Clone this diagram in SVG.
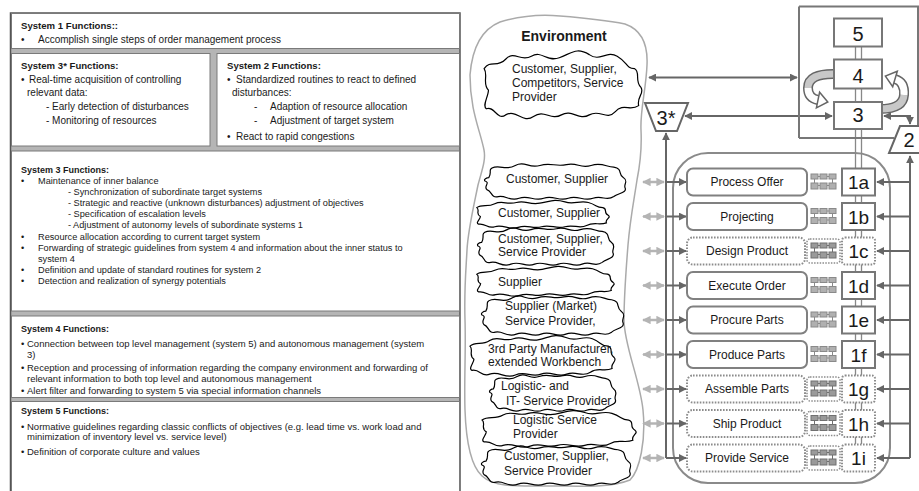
<svg xmlns="http://www.w3.org/2000/svg" width="919" height="491" viewBox="0 0 919 491">
<style>
text{font-family:"Liberation Sans",Arial,sans-serif;fill:#1a1a1a}
.lp{font-size:10px}
.lp4{font-size:9.5px}
.lp9{font-size:9.2px}
.hb{font-weight:bold;font-size:9.6px}
.hb9{font-weight:bold;font-size:9px}
.cl{font-size:12px}
.pr{font-size:12px;text-anchor:middle}
.num{font-size:19px;text-anchor:middle}
.big{font-size:20px;text-anchor:middle}
.wb{fill:#fff;stroke:#7a7a7a;stroke-width:1}
.box{fill:#fff;stroke:#777;stroke-width:2}
.pbox{fill:#fff;stroke:#808080;stroke-width:2}
.dot{fill:#fff;stroke:#8c8c8c;stroke-width:2;stroke-dasharray:1.6 1.4}
.ln{stroke:#666;stroke-width:2;fill:none}
.lg{stroke:#b4b4b4;stroke-width:2.5;fill:none}
.dl{stroke:#888;stroke-width:1.3;fill:none}
</style>
<defs>
<marker id="ah" viewBox="0 0 10 10" refX="9" refY="5" markerWidth="4" markerHeight="4" orient="auto-start-reverse"><path d="M0,0 L10,5 L0,10 z" fill="#666"/></marker>
<marker id="ahl" viewBox="0 0 10 10" refX="9" refY="5" markerWidth="3.4" markerHeight="3.4" orient="auto-start-reverse"><path d="M0,0 L10,5 L0,10 z" fill="#b4b4b4"/></marker>
<path id="cl1" fill="none" stroke="#000" stroke-width="1.2" vector-effect="non-scaling-stroke" d="M6,26 C0,22 6,16 2,12 C8,6 14,12 22,6 C30,0 36,8 46,4 C56,0 60,8 72,5 C84,2 88,-2 100,3 C110,8 116,0 126,4 C136,8 134,12 142,12 C148,14 142,20 148,24 C152,28 144,30 146,36 C138,40 132,34 124,40 C116,46 110,38 100,42 C90,46 84,38 74,42 C64,46 58,38 48,43 C38,48 32,38 22,42 C14,46 12,36 4,38 C0,36 6,30 6,26 Z"/>
<path id="cl2" fill="none" stroke="#000" stroke-width="1.2" vector-effect="non-scaling-stroke" d="M4,18 C8,12 2,8 10,6 C18,4 22,10 32,4 C42,-2 46,8 58,4 C70,0 74,6 86,3 C98,0 100,8 112,4 C124,0 128,6 136,6 C146,8 140,14 146,18 C152,22 146,26 148,30 C150,36 140,36 136,40 C128,46 124,38 114,42 C104,46 98,38 88,42 C78,46 72,38 62,42 C52,46 46,38 36,42 C26,46 22,38 14,40 C6,42 8,34 2,32 C-2,28 6,24 0,22 C-2,20 2,18 4,18 Z"/>
<g id="ico" fill="#b0b0b0" stroke="#8a8a8a" stroke-width="1">
<path d="M0,-5.5 H25 M0,3.5 H25 M3.5,-3 V1 M21.5,-3 V1" fill="none"/>
<rect x="0" y="-8" width="7" height="5"/><rect x="9" y="-8" width="7" height="5"/><rect x="18" y="-8" width="7" height="5"/>
<rect x="0" y="1" width="7" height="6"/><rect x="9" y="1" width="7" height="6"/><rect x="18" y="1" width="7" height="6"/>
</g>
<g id="icoD">
<rect x="-4" y="-12" width="33" height="24" rx="3" fill="#fff" stroke="#8c8c8c" stroke-width="1.5" stroke-dasharray="1.5 1.3"/>
<g fill="#9a9a9a" stroke="#707070" stroke-width="1">
<path d="M0,-5.5 H25 M0,3.5 H25 M3.5,-3 V1 M21.5,-3 V1" fill="none"/>
<rect x="0" y="-8" width="7" height="5"/><rect x="9" y="-8" width="7" height="5"/><rect x="18" y="-8" width="7" height="5"/>
<rect x="0" y="1" width="7" height="6"/><rect x="9" y="1" width="7" height="6"/><rect x="18" y="1" width="7" height="6"/>
</g>
</g>
</defs>

<rect width="919" height="491" fill="#fff"/>

<!-- Left panel -->
<g id="functions-panel">
<rect x="10.5" y="13" width="449.5" height="485" fill="#b5b5b5" stroke="#555" stroke-width="1.5"/>
<g id="sys1-functions">
<rect class="wb" x="11.5" y="13.5" width="448" height="35"/>
<text class="hb" x="21" y="28.5">System 1 Functions::</text>
<text class="lp" x="21" y="42.5">•</text><text class="lp" x="38" y="42.5">Accomplish single steps of order management process</text>
</g>
<g id="sys3star-functions">
<rect class="wb" x="11.5" y="53.5" width="198.5" height="92.5"/>
<text class="hb" x="21" y="69">System 3* Functions:</text>
<text class="lp" x="21" y="82.5">•</text><text class="lp" x="29" y="82.5">Real-time acquisition of controlling</text>
<text class="lp" x="27" y="95.5">relevant data:</text>
<text class="lp" x="46" y="110">- Early detection of disturbances</text>
<text class="lp" x="46" y="124">- Monitoring of resources</text>
</g>
<g id="sys2-functions">
<rect class="wb" x="217" y="53.5" width="242.5" height="92.5"/>
<text class="hb" x="227" y="69">System 2 Functions:</text>
<text class="lp" x="227" y="82.5">•</text><text class="lp" x="236" y="82.5">Standardized routines to react to defined</text>
<text class="lp" x="232" y="95.5">disturbances:</text>
<text class="lp" x="254" y="110">-</text><text class="lp" x="270" y="110">Adaption of resource allocation</text>
<text class="lp" x="254" y="124">-</text><text class="lp" x="270" y="124">Adjustment of target system</text>
<text class="lp" x="227" y="139.5">•</text><text class="lp" x="236" y="139.5">React to rapid congestions</text>
</g>
<g id="sys3-functions">
<rect class="wb" x="11.5" y="151" width="448" height="160"/>
<text class="hb9" x="21" y="172.5">System 3 Functions:</text>
<text class="lp9" x="21" y="183.5">•</text><text class="lp9" x="38" y="183.5">Maintenance of inner balance</text>
<text class="lp9" x="68" y="194.5">- Synchronization of subordinate target systems</text>
<text class="lp9" x="68" y="206">- Strategic and reactive (unknown disturbances) adjustment of objectives</text>
<text class="lp9" x="68" y="217">- Specification of escalation levels</text>
<text class="lp9" x="68" y="228">- Adjustment of autonomy levels of subordinate systems 1</text>
<text class="lp9" x="21" y="239.5">•</text><text class="lp9" x="38" y="239.5">Resource allocation according to current target system</text>
<text class="lp9" x="21" y="251">•</text><text class="lp9" x="38" y="251">Forwarding of strategic guidelines from system 4 and information about the inner status to</text>
<text class="lp9" x="38" y="262">system 4</text>
<text class="lp9" x="21" y="273">•</text><text class="lp9" x="38" y="273">Definition and update of standard routines for system 2</text>
<text class="lp9" x="21" y="284">•</text><text class="lp9" x="38" y="284">Detection and realization of synergy potentials</text>
</g>
<g id="sys4-functions">
<rect class="wb" x="11.5" y="316" width="448" height="81.5"/>
<text class="hb9" x="21" y="332">System 4 Functions:</text>
<text class="lp4" x="21" y="347">•</text><text class="lp4" x="27" y="347">Connection between top level management (system 5) and autonomous management (system</text>
<text class="lp4" x="27" y="357.5">3)</text>
<text class="lp4" x="21" y="371">•</text><text class="lp4" x="27" y="371">Reception and processing of information regarding the company environment and forwarding of</text>
<text class="lp4" x="27" y="381.5">relevant information to both top level and autonomous management</text>
<text class="lp4" x="21" y="394">•</text><text class="lp4" x="27" y="394">Alert filter and forwarding to system 5 via special information channels</text>
</g>
<g id="sys5-functions">
<rect class="wb" x="11.5" y="401.5" width="448" height="95"/>
<text class="hb9" x="21" y="414">System 5 Functions:</text>
<text class="lp4" x="21" y="429.5">•</text><text class="lp4" x="27" y="429.5">Normative guidelines regarding classic conflicts of objectives (e.g. lead time vs. work load and</text>
<text class="lp4" x="27" y="440">minimization of inventory level vs. service level)</text>
<text class="lp4" x="21" y="455">•</text><text class="lp4" x="27" y="455">Definition of corporate culture and values</text>
</g>
</g>

<!-- Environment -->
<g id="environment">
<path fill="none" stroke="#aaa" stroke-width="1.5" d="M470,75 C472,50 480,30 500,22 C520,16 540,14 560,16 C585,18 605,20 625,24 C642,30 648,45 647,65 C646,90 640,110 641,130 C642,150 640,165 637,180 C634,200 630,220 628,245 C626,270 624,295 624,320 C624,345 640,380 643,410 C646,440 640,470 630,480 C610,488 580,486 550,486 C520,486 495,488 482,476 C470,465 466,440 465,410 C464,380 466,350 465,320 C464,290 466,270 467,250 C468,230 474,205 478,185 C482,170 486,160 484,150 C480,130 470,110 470,75 Z"/>
<text x="564" y="41" style="font-size:14px;font-weight:bold;text-anchor:middle">Environment</text>
</g>
<g id="cloud-market">
<use href="#cl1" transform="translate(482,50) scale(1.073,1.545)"/>
<text class="cl" x="512" y="72.5">Customer, Supplier,</text>
<text class="cl" x="512" y="87">Competitors, Service</text>
<text class="cl" x="512" y="101">Provider</text>
</g>
<g id="cloud-1a"><use href="#cl2" transform="translate(485,162) scale(0.947,0.864)"/><text class="cl" x="506" y="182.5">Customer, Supplier</text></g>
<g id="cloud-1b"><use href="#cl1" transform="translate(475,200) scale(0.9,0.636)"/><text class="cl" x="498" y="217">Customer, Supplier</text></g>
<g id="cloud-1c"><use href="#cl2" transform="translate(478,226) scale(0.913,0.909)"/><text class="cl" x="498" y="242.5">Customer, Supplier,</text><text class="cl" x="498" y="256">Service Provider</text></g>
<g id="cloud-1d"><use href="#cl1" transform="translate(475,266) scale(0.933,0.682)"/><text class="cl" x="498" y="286">Supplier</text></g>
<g id="cloud-1e"><use href="#cl2" transform="translate(482,294) scale(0.953,0.955)"/><text class="cl" x="505" y="310">Supplier (Market)</text><text class="cl" x="505" y="325">Service Provider,</text></g>
<g id="cloud-1f"><use href="#cl1" transform="translate(468,335) scale(0.987,0.932)"/><text class="cl" x="488" y="352.5">3rd Party Manufacturer,</text><text class="cl" x="488" y="366">extended Workbench</text></g>
<g id="cloud-1g"><use href="#cl2" transform="translate(490,373) scale(0.847,0.886)"/><text class="cl" x="501" y="390">Logistic- and</text><text class="cl" x="506" y="405">IT- Service Provider</text></g>
<g id="cloud-1h"><use href="#cl1" transform="translate(480,410) scale(1.047,0.841)"/><text class="cl" x="513" y="423.5">Logistic Service</text><text class="cl" x="513" y="438">Provider</text></g>
<g id="cloud-1i"><use href="#cl2" transform="translate(482,444) scale(1.0,0.955)"/><text class="cl" x="504" y="460">Customer, Supplier,</text><text class="cl" x="504" y="475">Service Provider</text></g>

<!-- Operations container -->
<g id="operations-boundary">
<rect x="673" y="153" width="217" height="330" rx="35" fill="none" stroke="#8a8a8a" stroke-width="2"/>
</g>

<!-- Connectors -->
<g id="connectors">
<path class="dl" d="M855.5,47 V444 M861.5,47 V444"/>
<path class="ln" d="M649,77.5 H797" marker-start="url(#ah)" marker-end="url(#ah)"/>
<path class="ln" d="M685,116 H832" marker-start="url(#ah)" marker-end="url(#ah)"/>
<path class="ln" d="M884,116 H910 V124" marker-start="url(#ah)" marker-end="url(#ah)"/>
<path class="ln" d="M666,133 V458" marker-start="url(#ah)"/>
<path class="ln" d="M910,156 V458" marker-start="url(#ah)"/>
<g marker-end="url(#ah)">
<path class="ln" d="M666,182 H686"/><path class="ln" d="M666,216.5 H686"/><path class="ln" d="M666,251 H686"/>
<path class="ln" d="M666,285.5 H686"/><path class="ln" d="M666,320 H686"/><path class="ln" d="M666,354.5 H686"/>
<path class="ln" d="M666,389 H686"/><path class="ln" d="M666,423.5 H686"/><path class="ln" d="M666,458 H686"/>
<path class="ln" d="M910,182 H877"/><path class="ln" d="M910,216.5 H877"/><path class="ln" d="M910,251 H877"/>
<path class="ln" d="M910,285.5 H877"/><path class="ln" d="M910,320 H877"/><path class="ln" d="M910,354.5 H877"/>
<path class="ln" d="M910,389 H877"/><path class="ln" d="M910,423.5 H877"/><path class="ln" d="M910,458 H877"/>
</g>
<g marker-start="url(#ahl)" marker-end="url(#ahl)">
<path class="lg" d="M643,182 H664"/><path class="lg" d="M643,216.5 H664"/><path class="lg" d="M643,251 H664"/>
<path class="lg" d="M643,285.5 H664"/><path class="lg" d="M643,320 H664"/><path class="lg" d="M643,354.5 H664"/>
<path class="lg" d="M643,389 H664"/><path class="lg" d="M643,423.5 H664"/><path class="lg" d="M643,458 H664"/>
</g>
<!-- curved loops 4 <-> 3 -->
<path d="M836,74 Q808,73 808,88 Q808,98 818,100" fill="none" stroke="#666" stroke-width="10"/>
<path d="M836,74 Q808,73 808,88" fill="none" stroke="#c8c8c8" stroke-width="7"/>
<path d="M808,88 Q808,98 818,100" fill="none" stroke="#fff" stroke-width="7"/>
<polygon points="816.4,107.8 827.8,102 819.6,92.2" fill="#fff" stroke="#666" stroke-width="1.5"/>
<path d="M880,109 Q903,109 904,95 Q905,82 895,79" fill="none" stroke="#666" stroke-width="10"/>
<path d="M880,109 Q903,109 904,95" fill="none" stroke="#c8c8c8" stroke-width="7"/>
<path d="M904,95 Q905,82 895,79" fill="none" stroke="#fff" stroke-width="7"/>
<polygon points="897.3,71.3 885.4,76.1 892.7,86.7" fill="#fff" stroke="#666" stroke-width="1.5"/>
</g>

<!-- Management VSM -->
<g id="management-frame"><path d="M799,6.5 H918 V126 M894,138 H799 Z" fill="none" stroke="#777" stroke-width="2"/><path d="M799,6.5 V138" stroke="#777" stroke-width="2"/></g>
<g id="sys5"><rect class="box" x="834" y="18.5" width="48" height="28"/><text class="big" x="858" y="40.5">5</text></g>
<g id="sys4"><rect class="box" x="834" y="59.5" width="48" height="29"/><text class="big" x="858" y="82.5">4</text></g>
<g id="sys3"><rect class="box" x="834" y="102" width="48" height="27"/><text class="big" x="858" y="122">3</text></g>
<g id="sys3star"><polygon points="645,103 688,103 677,131 656,131" fill="#fff" stroke="#666" stroke-width="2"/><text class="big" x="666" y="125">3*</text></g>
<g id="sys2"><polygon points="900,126 925,126 925,153 889,153" fill="#fff" stroke="#666" stroke-width="2"/><text class="big" x="909" y="147">2</text></g>

<!-- System 1 operations -->
<g id="op-1a"><rect class="pbox" x="687" y="168.5" width="120" height="27" rx="6"/><text class="pr" x="747" y="186.3">Process Offer</text><use href="#ico" transform="translate(811,182)"/><rect class="box" x="842" y="168.5" width="33" height="27"/><text class="num" x="858.5" y="189">1a</text></g>
<g id="op-1b"><rect class="pbox" x="687" y="203" width="120" height="27" rx="6"/><text class="pr" x="747" y="220.8">Projecting</text><use href="#ico" transform="translate(811,216.5)"/><rect class="box" x="842" y="203" width="33" height="27"/><text class="num" x="858.5" y="223.5">1b</text></g>
<g id="op-1c"><rect class="dot" x="687" y="237.5" width="118" height="27" rx="6"/><text class="pr" x="747" y="255.3">Design Product</text><use href="#icoD" transform="translate(811,251)"/><rect class="dot" x="842" y="237.5" width="33" height="27" rx="3"/><text class="num" x="858.5" y="258">1c</text></g>
<g id="op-1d"><rect class="pbox" x="687" y="272" width="120" height="27" rx="6"/><text class="pr" x="747" y="289.8">Execute Order</text><use href="#ico" transform="translate(811,285.5)"/><rect class="box" x="842" y="272" width="33" height="27"/><text class="num" x="858.5" y="292.5">1d</text></g>
<g id="op-1e"><rect class="pbox" x="687" y="306.5" width="120" height="27" rx="6"/><text class="pr" x="747" y="324.3">Procure Parts</text><use href="#ico" transform="translate(811,320)"/><rect class="box" x="842" y="306.5" width="33" height="27"/><text class="num" x="858.5" y="327">1e</text></g>
<g id="op-1f"><rect class="pbox" x="687" y="341" width="120" height="27" rx="6"/><text class="pr" x="747" y="358.8">Produce Parts</text><use href="#ico" transform="translate(811,354.5)"/><rect class="box" x="842" y="341" width="33" height="27"/><text class="num" x="858.5" y="361.5">1f</text></g>
<g id="op-1g"><rect class="dot" x="687" y="375.5" width="118" height="27" rx="6"/><text class="pr" x="747" y="393.3">Assemble Parts</text><use href="#icoD" transform="translate(811,389)"/><rect class="dot" x="842" y="375.5" width="33" height="27" rx="3"/><text class="num" x="858.5" y="396">1g</text></g>
<g id="op-1h"><rect class="dot" x="687" y="410" width="118" height="27" rx="6"/><text class="pr" x="747" y="427.8">Ship Product</text><use href="#icoD" transform="translate(811,423.5)"/><rect class="dot" x="842" y="410" width="33" height="27" rx="3"/><text class="num" x="858.5" y="430.5">1h</text></g>
<g id="op-1i"><rect class="dot" x="687" y="444.5" width="118" height="27" rx="6"/><text class="pr" x="747" y="462.3">Provide Service</text><use href="#icoD" transform="translate(811,458)"/><rect class="dot" x="842" y="444.5" width="33" height="27" rx="3"/><text class="num" x="858.5" y="465">1i</text></g>
</svg>
